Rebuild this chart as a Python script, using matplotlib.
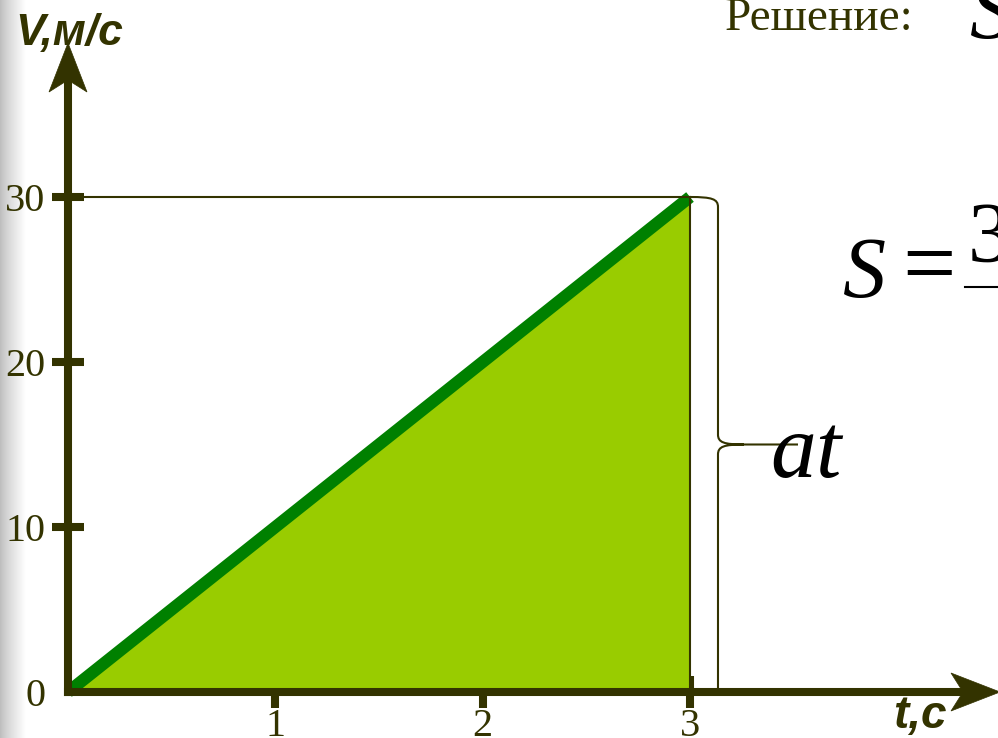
import numpy as np
import matplotlib
matplotlib.use("Agg")
import matplotlib.pyplot as plt
from matplotlib.patches import Polygon, PathPatch
from matplotlib.path import Path
from matplotlib.transforms import ScaledTranslation

# ---- data ----
t_values = [0, 3]          # s
v_values = [0, 30]         # m/s
x_ticks = [1, 2, 3]
x_tick_labels = ["1", "2", "3"]
y_ticks = [0, 10, 20, 30]
y_tick_labels = ["0", "10", "20", "30"]
x_label = "t,с"
y_label = "V,м/с"
title_text = "Решение:"
brace_text = "at"

AX = "#333300"
FILL = "#99CC00"
LINE = "#008000"
SERIF = ["Liberation Serif", "DejaVu Serif"]
SANS = ["Liberation Sans", "DejaVu Sans"]

W, H = 998, 738
fig = plt.figure(figsize=(W / 100, H / 100), dpi=100, facecolor="white")
ax = fig.add_axes([0, 0, 1, 1])
ax.set_facecolor("none")

# pixel layout of the axes origin and scales
x0px, xscale = 68, 207.33
y0px, yscale = 46, 16.5
XLIM = (-x0px / xscale, (W - x0px) / xscale)
YLIM = (-y0px / yscale, (H - y0px) / yscale)

# grey gradient strip at left edge
grad = np.linspace(0, 1, 64) ** 0.8
grad = 0.74 + 0.26 * grad
img = np.repeat(np.dstack([grad, grad, grad]), 2, axis=0)
ax.imshow(img, extent=[0, 26 / W, 0, 1], transform=ax.transAxes,
          aspect="auto", zorder=0, interpolation="bilinear")

# filled area and line
ax.fill_between(t_values, v_values, 0, color=FILL, lw=0, zorder=2)
ax.plot(t_values, v_values, color=LINE, lw=8.8, solid_capstyle="butt", zorder=3)

# guide lines
ax.plot([0, t_values[-1]], [v_values[-1], v_values[-1]], color=AX, lw=1.5, zorder=4)
ax.plot([t_values[-1], t_values[-1]], [0, v_values[-1]], color=AX, lw=1.5, zorder=4)

# brace on the right of the triangle
bx = t_values[-1] + 28 / xscale
dx = 6 / xscale
vt = v_values[-1]
vm = vt / 2
dy = 10 / yscale
tipx = bx + 26 / xscale
endx = bx + 80 / xscale
verts = [
    (t_values[-1], vt),
    (bx - dx, vt), (bx, vt - 0.2 * dy), (bx, vt - dy),
    (bx, vm + dy),
    (bx, vm + 0.2 * dy), (bx + dx, vm), (tipx, vm),
    (endx, vm),
    (tipx, vm),
    (bx + dx, vm), (bx, vm - 0.2 * dy), (bx, vm - dy),
    (bx, 0),
]
codes = [Path.MOVETO,
         Path.CURVE4, Path.CURVE4, Path.CURVE4,
         Path.LINETO,
         Path.CURVE4, Path.CURVE4, Path.CURVE4,
         Path.LINETO,
         Path.MOVETO,
         Path.CURVE4, Path.CURVE4, Path.CURVE4,
         Path.LINETO]
ax.add_patch(PathPatch(Path(verts, codes), fill=False, ec=AX, lw=1.5, zorder=4))

# axes (spines) with arrows
for s in ["top", "right"]:
    ax.spines[s].set_visible(False)
ax.spines["left"].set_position(("data", 0))
ax.spines["bottom"].set_position(("data", 0))
ax.spines["left"].set_bounds(0, 38.0)
ax.spines["bottom"].set_bounds(0, 4.3)
for s in ["left", "bottom"]:
    ax.spines[s].set_linewidth(5.8)
    ax.spines[s].set_color(AX)
    ax.spines[s].set_zorder(5)
    ax.spines[s].set_capstyle("projecting")

def arrow_head(x, y, rot):
    # concave arrow head, size in inches, tip at (x, y) data
    pts = np.array([[0, 0], [-0.19, -0.49], [0, -0.37], [0.19, -0.49]])
    if rot:
        pts = pts[:, ::-1].copy()
    tr = fig.dpi_scale_trans + ScaledTranslation(x, y, ax.transData)
    ax.add_patch(Polygon(pts, closed=True, fc=AX, ec=AX, lw=0.5,
                         transform=tr, zorder=6, clip_on=False))

arrow_head(0, (692 - 43) / yscale, False)
arrow_head((1000 - x0px) / xscale, 0, True)

# ticks
ax.set_xticks(x_ticks, x_tick_labels)
ax.set_yticks(y_ticks, y_tick_labels)
ax.tick_params(axis="both", direction="inout", length=23, width=5.8, color=AX,
               labelcolor=AX, labelsize=29)
ax.tick_params(axis="y", pad=5)
ax.tick_params(axis="x", pad=0.0)
for lab in ax.get_xticklabels() + ax.get_yticklabels():
    lab.set_family(SERIF)
ax.yaxis.get_major_ticks()[0].tick1line.set_visible(False)

ax.set_xlim(*XLIM)
ax.set_ylim(*YLIM)

# axis labels
fig.text(15 / W, 1 - 45 / H, y_label, family=SANS, style="italic", weight="bold",
         size=32, color=AX, va="baseline", ha="left")
fig.text(893 / W, 1 - 728 / H, x_label, family=SANS, style="italic", weight="bold",
         size=33, color=AX, va="baseline", ha="left")

# annotations on the right
fig.text(725 / W, 1 - 30 / H, title_text, family=SERIF, size=34, color=AX,
         va="baseline", ha="left")
fig.text(970 / W, 1 - 38 / H, "S", family=SERIF, style="italic", size=62,
         color="black", va="baseline", ha="left")
fig.text(843 / W, 1 - 297 / H, "S", family=SERIF, style="italic", size=62,
         color="black", va="baseline", ha="left")
fig.text(902 / W, 1 - 294 / H, "=", family=SERIF, size=68,
         color="black", va="baseline", ha="left")
fig.text(968 / W, 1 - 262 / H, "3", family=SERIF, size=62,
         color="black", va="baseline", ha="left")
fig.add_artist(plt.Line2D([965 / W, 1.0], [1 - 287 / H, 1 - 287 / H],
                          transform=fig.transFigure, color="black", lw=1.5))
fig.text(770 / W, 1 - 477 / H, brace_text, family=SERIF, style="italic", size=66,
         color="black", va="baseline", ha="left", zorder=7)

fig.savefig("out.png", dpi=100, facecolor="white")
